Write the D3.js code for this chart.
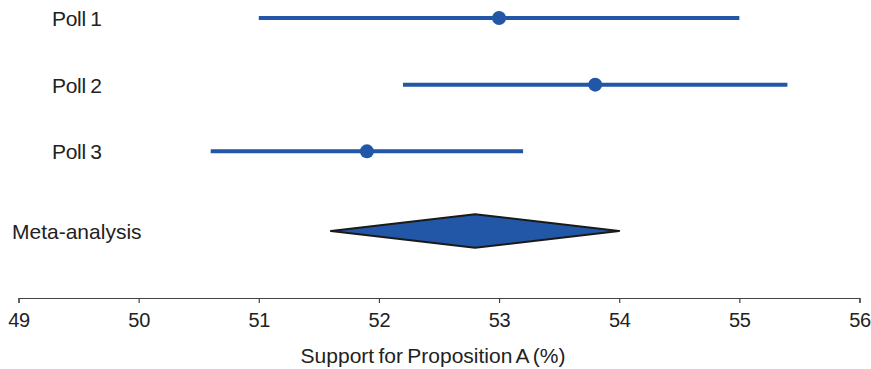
<!DOCTYPE html>
<html>
<head>
<meta charset="utf-8">
<script src="https://cdn.jsdelivr.net/npm/d3@7/dist/d3.min.js"></script>
<style>
  html, body { margin: 0; padding: 0; background: #fff; }
  svg { display: block; font-family: "Liberation Sans", Arial, sans-serif; }
</style>
</head>
<body>
<svg id="chart" width="871" height="369"></svg>
<script>
// Individual poll estimates with confidence intervals
const polls = ["Poll 1", "Poll 2", "Poll 3"];
const pollEstimate = [53.0, 53.8, 51.9];
const pollLower = [51.0, 52.2, 50.6];
const pollUpper = [55.0, 55.4, 53.2];

// Pooled estimate
const metaLabel = "Meta-analysis";
const metaEstimate = 52.8;
const metaLower = 51.6;
const metaUpper = 54.0;

const xTicks = [49, 50, 51, 52, 53, 54, 55, 56];
const xTitle = "Support for Proposition A (%)";

const blue = "#2157a6";
const ink = "#222";

const svg = d3.select("#chart");

const x = d3.scaleLinear().domain([49, 56]).range([18.5, 859.5]);
const y = d3.scalePoint()
  .domain([...polls, metaLabel])
  .range([18, 218]);
// Meta-analysis row sits a bit lower than even spacing
const rowY = d => d === metaLabel ? 231 : y(d);

// Axis
const axisG = svg.append("g").attr("transform", "translate(0,298)");
axisG.call(d3.axisBottom(x).tickValues(xTicks).tickSize(5).tickPadding(10).tickFormat(d3.format("d")));
axisG.select(".domain").attr("stroke", "#444").attr("stroke-width", 1.2);
axisG.selectAll(".tick line").attr("stroke", "#444").attr("stroke-width", 1.2);
axisG.selectAll(".tick text")
  .attr("fill", ink)
  .style("font-size", "20px")
  .style("letter-spacing", "-0.3px")
  .style("font-family", "Liberation Sans, Arial, sans-serif");

svg.append("text")
  .attr("x", 433)
  .attr("y", 363)
  .attr("text-anchor", "middle")
  .attr("fill", ink)
  .style("font-size", "21px")
  .style("word-spacing", "-1.5px")
  .text(xTitle);

// Poll rows
const rows = polls.map((p, i) => ({ name: p, est: pollEstimate[i], lo: pollLower[i], hi: pollUpper[i] }));

svg.selectAll("line.ci").data(rows).join("line")
  .attr("class", "ci")
  .attr("x1", d => x(d.lo))
  .attr("x2", d => x(d.hi))
  .attr("y1", d => rowY(d.name))
  .attr("y2", d => rowY(d.name))
  .attr("stroke", blue)
  .attr("stroke-width", 4);

svg.selectAll("circle.est").data(rows).join("circle")
  .attr("class", "est")
  .attr("cx", d => x(d.est))
  .attr("cy", d => rowY(d.name))
  .attr("r", 7)
  .attr("fill", blue);

svg.selectAll("text.rowlabel").data(polls).join("text")
  .attr("class", "rowlabel")
  .attr("x", 52)
  .attr("y", d => rowY(d) + 8)
  .attr("fill", ink)
  .style("font-size", "21px")
  .style("letter-spacing", "-0.3px")
  .style("word-spacing", "-1px")
  .text(d => d);

// Pooled diamond
const my = rowY(metaLabel);
const half = 16.7;
const diamond = [
  [x(metaLower), my],
  [x(metaEstimate), my - half],
  [x(metaUpper), my],
  [x(metaEstimate), my + half]
];
svg.append("path")
  .attr("d", d3.line()(diamond) + "Z")
  .attr("fill", blue)
  .attr("stroke", "#1a1a1a")
  .attr("stroke-width", 2)
  .attr("stroke-linejoin", "round");

svg.append("text")
  .attr("x", 12)
  .attr("y", my + 8)
  .attr("fill", ink)
  .style("font-size", "21px")
  .text(metaLabel);
</script>
</body>
</html>
